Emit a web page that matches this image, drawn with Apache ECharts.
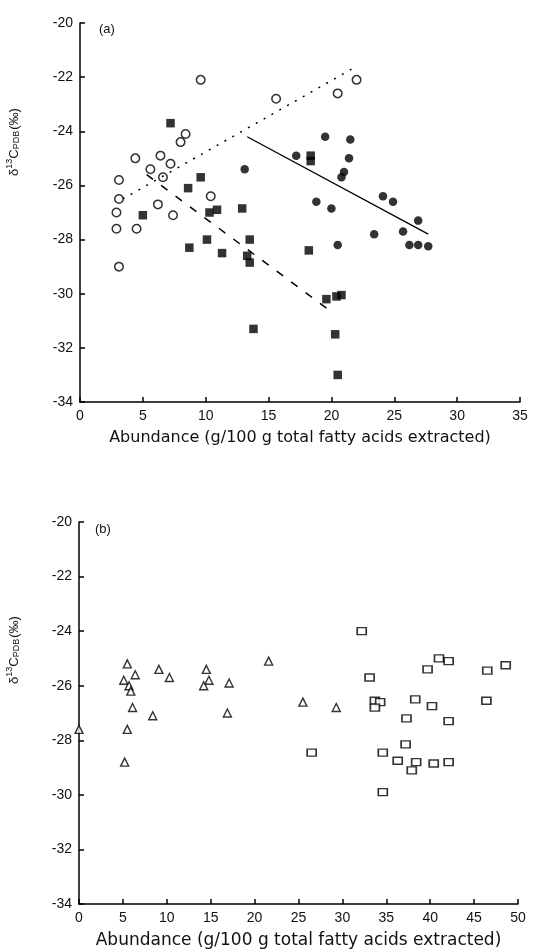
<!DOCTYPE html>
<html>
<head>
<meta charset="utf-8">
<script src="https://cdn.jsdelivr.net/npm/echarts@6/dist/echarts.min.js"></script>
<style>html,body{margin:0;padding:0;background:#fff;}#c{width:533px;height:950px;}</style>
</head>
<body>
<div id="c"></div>
<script>
// ---- Panel (a) data ----
const openCirclesA = [[9.6,-22.1],[15.6,-22.8],[8.4,-24.1],[8.0,-24.4],[4.4,-25.0],[6.4,-24.9],[7.2,-25.2],[5.6,-25.4],[6.6,-25.7],[3.1,-25.8],[10.4,-26.4],[6.2,-26.7],[3.1,-26.5],[2.9,-27.0],[7.4,-27.1],[2.9,-27.6],[4.5,-27.6],[3.1,-29.0],[20.5,-22.6],[22.0,-22.1]];
const filledSquaresA = [[7.2,-23.7],[9.6,-25.7],[8.6,-26.1],[5.0,-27.1],[10.3,-27.0],[10.9,-26.9],[12.9,-26.85],[8.7,-28.3],[10.1,-28.0],[11.3,-28.5],[13.5,-28.0],[13.3,-28.6],[13.5,-28.85],[13.8,-31.3],[18.2,-28.4],[19.6,-30.2],[20.4,-30.1],[20.8,-30.05],[20.3,-31.5],[20.5,-33.0],[18.35,-24.9],[18.35,-25.1]];
const filledCirclesA = [[13.1,-25.4],[19.5,-24.2],[21.5,-24.3],[17.2,-24.9],[21.4,-25.0],[21.0,-25.5],[20.8,-25.7],[24.1,-26.4],[24.9,-26.6],[18.8,-26.6],[20.0,-26.85],[26.9,-27.3],[23.4,-27.8],[25.7,-27.7],[26.2,-28.2],[26.9,-28.2],[27.7,-28.25],[20.5,-28.2]];
const dottedLineA = [[3.4,-26.5],[22.0,-21.6]];
const dashedLineA = [[5.3,-25.6],[19.8,-30.6]];
const solidLineA = [[13.3,-24.2],[27.7,-27.8]];

// ---- Panel (b) data ----
const trianglesB = [[5.5,-25.2],[6.4,-25.6],[9.1,-25.4],[10.3,-25.7],[14.5,-25.4],[14.8,-25.8],[14.2,-26.0],[17.1,-25.9],[21.6,-25.1],[5.1,-25.8],[5.7,-26.0],[5.9,-26.2],[6.1,-26.8],[8.4,-27.1],[16.9,-27.0],[0.0,-27.6],[5.5,-27.6],[5.2,-28.8],[25.5,-26.6],[29.3,-26.8]];
const squaresB = [[32.2,-24.0],[33.1,-25.7],[39.7,-25.4],[41.0,-25.0],[42.1,-25.1],[46.5,-25.45],[48.6,-25.25],[33.7,-26.55],[34.3,-26.6],[33.7,-26.8],[38.3,-26.5],[40.2,-26.75],[46.4,-26.55],[37.3,-27.2],[42.1,-27.3],[26.5,-28.45],[34.6,-28.45],[37.2,-28.15],[36.3,-28.75],[38.4,-28.8],[37.9,-29.1],[40.4,-28.85],[42.1,-28.8],[34.6,-29.9]];

// ---- Axes ----
const yMin = -34, yMax = -20, yStep = 2;
const xMaxA = 35, xMaxB = 50, xStep = 5;
const xTitle = 'Abundance (g/100 g total fatty acids extracted)';

const chart = echarts.init(document.getElementById('c'), null, {renderer:'canvas'});
const FONT = 'Liberation Sans';
const axisLine = {show:true, lineStyle:{color:'#000', width:1.5}};
const axisTick = {show:true, inside:true, length:5, lineStyle:{color:'#000', width:1.5}};
const label = {color:'#111', fontSize:14, fontFamily:FONT};

function xAx(idx, max, fs){
  return {type:'value', gridIndex:idx, min:0, max:max, interval:xStep,
    axisLine:axisLine, axisTick:axisTick, splitLine:{show:false},
    axisLabel:Object.assign({margin:7}, label),
    name:xTitle, nameLocation:'middle', nameGap:28,
    nameTextStyle:{color:'#111', fontSize:fs, fontFamily:'DejaVu Sans'}};
}
function yAx(idx){
  return {type:'value', gridIndex:idx, min:yMin, max:yMax, interval:yStep,
    axisLine:axisLine, axisTick:axisTick, splitLine:{show:false},
    axisLabel:Object.assign({margin:7}, label)};
}
const openStyle = {color:'#fff', borderColor:'#000', borderWidth:1.5};
function yTitle(x, y){
  return {type:'text', x:x, y:y, rotation:Math.PI/2,
    style:{text:'{n|δ}{s|13}{n|C}{b|PDB}{n|(‰)}', align:'center', verticalAlign:'middle',
      rich:{n:{fontSize:13, fontFamily:FONT, fill:'#111'},
            s:{fontSize:9, fontFamily:FONT, fill:'#111', padding:[0,0,8,0]},
            b:{fontSize:9, fontFamily:FONT, fill:'#111', padding:[6,1,0,0]}}}};
}

chart.setOption({
  animation:false,
  backgroundColor:'#fff',
  grid:[{left:80, top:23, width:440, height:379},{left:79, top:522, width:439, height:382}],
  xAxis:[xAx(0, xMaxA, 16), xAx(1, xMaxB, 17)],
  yAxis:[yAx(0), yAx(1)],
  graphic:[
    {type:'text', left:99, top:23, style:{text:'(a)', fontSize:13, fontFamily:FONT, fill:'#111'}},
    {type:'text', left:95, top:523, style:{text:'(b)', fontSize:13, fontFamily:FONT, fill:'#111'}},
    yTitle(14, 142),
    yTitle(14, 650)
  ],
  series:[
    {type:'line', xAxisIndex:0, yAxisIndex:0, data:dottedLineA, symbol:'none', lineStyle:{color:'#000', width:1.5, type:[2,7]}},
    {type:'line', xAxisIndex:0, yAxisIndex:0, data:dashedLineA, symbol:'none', lineStyle:{color:'#000', width:1.5, type:[8,10]}},
    {type:'line', xAxisIndex:0, yAxisIndex:0, data:solidLineA, symbol:'none', lineStyle:{color:'#000', width:1.3}},
    {type:'scatter', xAxisIndex:0, yAxisIndex:0, data:openCirclesA, symbol:'circle', symbolSize:8.5, itemStyle:openStyle},
    {type:'scatter', xAxisIndex:0, yAxisIndex:0, data:filledSquaresA, symbol:'rect', symbolSize:8.5, itemStyle:{color:'#000'}},
    {type:'scatter', xAxisIndex:0, yAxisIndex:0, data:filledCirclesA, symbol:'circle', symbolSize:8.5, itemStyle:{color:'#000'}},
    {type:'scatter', xAxisIndex:1, yAxisIndex:1, data:trianglesB, symbol:'triangle', symbolSize:8, itemStyle:{color:'#fff', borderColor:'#000', borderWidth:1.4}},
    {type:'scatter', xAxisIndex:1, yAxisIndex:1, data:squaresB, symbol:'rect', symbolSize:[9,7], itemStyle:{color:'#fff', borderColor:'#000', borderWidth:1.5}}
  ]
});
</script>
</body>
</html>
